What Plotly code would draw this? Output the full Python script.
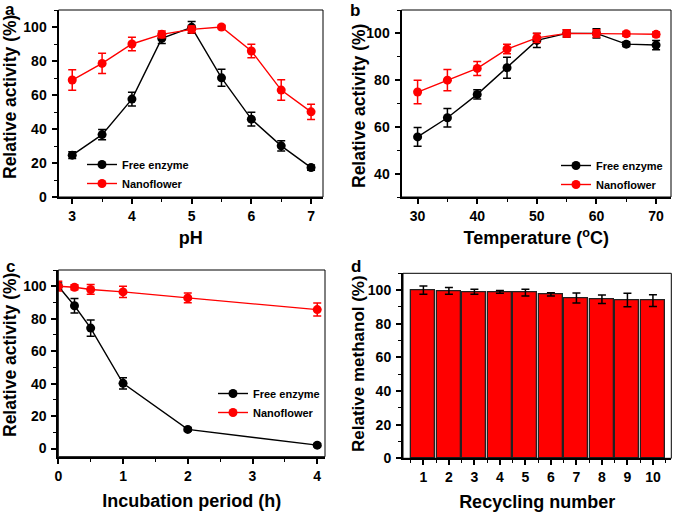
import plotly.graph_objects as go

W, H = 677, 512

# ---- Data ----
ph = [3, 3.5, 4, 4.5, 5, 5.5, 6, 6.5, 7]
ph_free = [24.6, 36.7, 57.6, 93.3, 99.8, 70.1, 45.8, 30.1, 17.3]
ph_free_err = [2, 3, 4, 3, 3.5, 5, 4, 3, 1.5]
ph_nano = [68.8, 78.6, 90.0, 95.7, 98.6, 100, 85.9, 62.9, 50.1]
ph_nano_err = [6, 6, 4, 2, 2, 1, 4, 6, 4.5]

temp = [30, 35, 40, 45, 50, 55, 60, 65, 70]
t_free = [55.7, 63.9, 73.9, 85.3, 97.0, 100, 100, 95.4, 95.0]
t_free_err = [4, 4, 2, 4.5, 3, 1.5, 2, 1, 2]
t_nano = [74.9, 80.0, 85.0, 93.3, 98.1, 100, 100, 99.8, 99.6]
t_nano_err = [5, 4.5, 3, 2, 2, 1.5, 1.5, 1, 1]

inc = [0, 0.25, 0.5, 1, 2, 4]
i_free = [100, 88.0, 74.2, 40.2, 11.8, 2.1]
i_free_err = [2, 4.5, 5, 3.5, 1, 1]
i_nano = [100, 99.4, 98.0, 96.5, 92.8, 85.6]
i_nano_err = [3, 1.5, 3, 3.5, 3, 4]

cycles = [1, 2, 3, 4, 5, 6, 7, 8, 9, 10]
methanol = [100, 99.5, 99.0, 99.0, 98.5, 97.5, 95.3, 94.6, 94.1, 93.8]
methanol_err = [2.5, 2, 1.5, 0.8, 2, 1, 3, 2.5, 4, 3.5]

RED = "#ff0000"
BLK = "#000000"
FONT = "Liberation Sans"

fig = go.Figure()

def line_trace(x, y, e, name, color, xa, ya, legend, show):
    fig.add_trace(go.Scatter(
        x=x, y=y, name=name, mode="lines+markers",
        line=dict(color=color, width=1.4),
        marker=dict(color=color, size=9),
        error_y=dict(type="data", array=e, color=color, thickness=1.5, width=4),
        xaxis=xa, yaxis=ya, legend=legend, showlegend=show))

line_trace(ph, ph_free, ph_free_err, "Free enzyme", BLK, "x", "y", "legend", True)
line_trace(ph, ph_nano, ph_nano_err, "Nanoflower", RED, "x", "y", "legend", True)
line_trace(temp, t_free, t_free_err, "Free enzyme", BLK, "x2", "y2", "legend2", True)
line_trace(temp, t_nano, t_nano_err, "Nanoflower", RED, "x2", "y2", "legend2", True)
line_trace(inc, i_free, i_free_err, "Free enzyme", BLK, "x3", "y3", "legend3", True)
line_trace(inc, i_nano, i_nano_err, "Nanoflower", RED, "x3", "y3", "legend3", True)

fig.add_trace(go.Bar(
    x=cycles, y=methanol, width=0.94,
    marker=dict(color=RED, line=dict(color="#222222", width=1.3)),
    error_y=dict(type="data", array=methanol_err, color=BLK, thickness=1.5, width=4),
    xaxis="x4", yaxis="y4", showlegend=False))

def px_dom(a, b, total):
    return [a / total, b / total]

def ydom(top, bottom):
    return [1 - bottom / H, 1 - top / H]

tickfont = dict(family=FONT, size=14, color=BLK, weight="bold")
titlefont = dict(family=FONT, size=18, color=BLK, weight="bold")

def xaxis(dom, rng, dtick, minor, title, anchor, standoff=12):
    return dict(domain=dom, range=rng, anchor=anchor, dtick=dtick, tick0=0,
                automargin=False,
                showline=True, linecolor=BLK, linewidth=2, mirror=False,
                ticks="outside", ticklen=5, tickwidth=1.5, tickcolor=BLK,
                minor=dict(dtick=minor, ticks="outside", ticklen=3, tickwidth=1.2, tickcolor=BLK),
                showgrid=False, zeroline=False, tickfont=tickfont,
                title=dict(text=title, font=titlefont, standoff=standoff))

def yaxis(dom, rng, anchor):
    return dict(domain=dom, range=rng, anchor=anchor, dtick=20, tick0=0,
                automargin=False,
                showline=True, linecolor=BLK, linewidth=2, mirror=False,
                ticks="outside", ticklen=5, tickwidth=1.5, tickcolor=BLK,
                minor=dict(dtick=10, ticks="outside", ticklen=3, tickwidth=1.2, tickcolor=BLK),
                showgrid=False, zeroline=False, tickfont=tickfont, ticklabelstandoff=2)

dA_x = px_dom(58.5, 323, W); dA_y = ydom(10, 197)
dB_x = px_dom(401.5, 671, W); dB_y = ydom(10, 197)
dC_x = px_dom(58.3, 325, W); dC_y = ydom(270, 456.7)
dD_x = px_dom(403, 671.3, W); dD_y = ydom(273.3, 458.3)

legfont = dict(family=FONT, size=11, color=BLK, weight="bold")
def leg(x, y):
    return dict(x=x, y=y, xanchor="left", yanchor="top", bgcolor="rgba(0,0,0,0)",
                borderwidth=0, font=legfont, tracegroupgap=0)

fig.update_layout(
    width=W, height=H, margin=dict(l=0, r=0, t=0, b=0, autoexpand=False),
    paper_bgcolor="white", plot_bgcolor="white",
    font=dict(family=FONT, color=BLK, weight="bold"),
    xaxis=xaxis(dA_x, [2.77, 7.2], 1, 0.5, "pH", "y", standoff=9),
    yaxis=yaxis(dA_y, [0, 110], "x"),
    xaxis2=xaxis(dB_x, [27.3, 72.5], 10, 5, "Temperature (<sup>o</sup>C)", "y2", standoff=9),
    yaxis2=yaxis(dB_y, [30, 110], "x2"),
    xaxis3=xaxis(dC_x, [0, 4.12], 1, 0.5, "Incubation period (h)", "y3"),
    yaxis3=yaxis(dC_y, [-5, 110], "x3"),
    xaxis4=xaxis(dD_x, [0.2, 10.72], 1, 0.5, "Recycling number", "y4"),
    yaxis4=yaxis(dD_y, [0, 110], "x4"),
    legend=leg(82 / W, 1 - 150 / H),
    legend2=leg(556 / W, 1 - 151 / H),
    legend3=leg(213 / W, 1 - 379 / H),
    bargap=0,
)

# frame boxes
for xr, yr in [("x", "y"), ("x2", "y2"), ("x3", "y3"), ("x4", "y4")]:
    fig.add_shape(type="rect", xref=f"{xr} domain", yref=f"{yr} domain",
                  x0=0, x1=1, y0=0, y1=1, line=dict(color=BLK, width=1), layer="above")

# y-axis titles
for txt, x, y, sz in [("Relative activity (%)", 10, 97, 17.5), ("Relative activity (%)", 359, 106, 17.5),
                      ("Relative activity (%)", 10, 355, 17.5), ("Relative methanol (%)", 358, 364, 17)]:
    fig.add_annotation(text=txt, x=x / W, y=1 - y / H, xref="paper", yref="paper",
                       showarrow=False, textangle=-90, xanchor="center", yanchor="middle",
                       font=dict(family=FONT, size=sz, color=BLK, weight="bold"))

# panel labels
for lab, x, y in [("a", 9.5, 9), ("b", 355, 10), ("c", 11, 266), ("d", 355.5, 266)]:
    fig.add_annotation(text=lab, x=x / W, y=1 - y / H, xref="paper", yref="paper",
                       showarrow=False, xanchor="center", yanchor="middle",
                       font=dict(family=FONT, size=17, color=BLK, weight="bold"))

fig.write_html("out.html", config={"displayModeBar": False},
               post_script="document.body.style.margin='0';document.body.style.padding='0';")
